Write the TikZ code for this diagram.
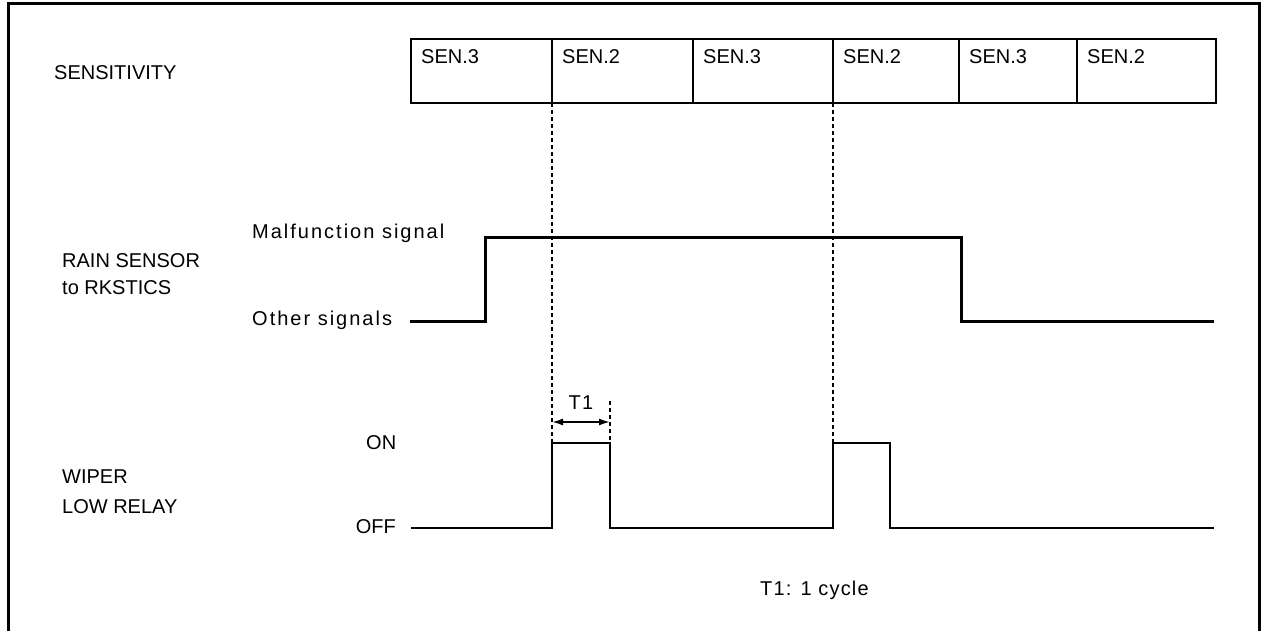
\documentclass[tikz,border=0pt]{standalone}
\usepackage{fontspec}
\setmainfont{Liberation Sans}
\newfontfamily\widefont[LetterSpace=10]{Liberation Sans}
\newfontfamily\midfont[LetterSpace=6]{Liberation Sans}
\usetikzlibrary{arrows.meta,calc}
\begin{document}
\begin{tikzpicture}[x=1pt,y=-1pt,
  lbl/.style={font=\fontsize{20}{24}\selectfont, anchor=west, inner sep=0pt},
  wlbl/.style={font=\widefont\fontsize{20}{24}\selectfont, anchor=west, inner sep=0pt},
  mlbl/.style={font=\midfont\fontsize{20}{24}\selectfont, anchor=west, inner sep=0pt},
  cell/.style={draw, line width=2.1pt, minimum height=64pt, anchor=north west, inner sep=0pt, outer sep=0pt},
  celltxt/.style={font=\fontsize{20}{24}\selectfont, anchor=west, inner sep=0pt},
  rainsig/.style={line width=3pt},
  wipsig/.style={line width=2.5pt},
  guide/.style={line width=1.8pt, dash pattern=on 4pt off 3pt},
  frame/.style={line width=3pt}]
\useasboundingbox (0,0) rectangle (1266,631);
% frame
\coordinate (fBL) at (8,631);
\coordinate (fTL) at (8,3.5);
\coordinate (fTR) at (1259.5,3.5);
\coordinate (fBR) at (1259.5,631);
\draw[frame] (fBL) -- (fTL) -- (fTR) -- (fBR);

% sensitivity row
\node[lbl] (sens) at (54,72.5) {SENSITIVITY};
\node[cell, minimum width=141pt] (c1) at (411,39) {};
\node[cell, minimum width=141pt] (c2) at (552,39) {};
\node[cell, minimum width=140pt] (c3) at (693,39) {};
\node[cell, minimum width=126pt] (c4) at (833,39) {};
\node[cell, minimum width=118pt] (c5) at (959,39) {};
\node[cell, minimum width=139pt] (c6) at (1077,39) {};
\node[celltxt] (t1) at ($(c1.north west)+(10,18)$) {SEN.3};
\node[celltxt] (t2) at ($(c2.north west)+(10,18)$) {SEN.2};
\node[celltxt] (t3) at ($(c3.north west)+(10,18)$) {SEN.3};
\node[celltxt] (t4) at ($(c4.north west)+(10,18)$) {SEN.2};
\node[celltxt] (t5) at ($(c5.north west)+(10,18)$) {SEN.3};
\node[celltxt] (t6) at ($(c6.north west)+(10,18)$) {SEN.2};

% rain sensor row
\node[lbl] (rs1) at (62,260.5) {RAIN SENSOR};
\node[lbl] (rs2) at (62,288) {to RKSTICS};
\node[wlbl] (mal) at (252,233.5) {Malfunction signal};
\node[wlbl] (oth) at (252,320) {Other signals};
\coordinate (rsA) at (410,321);
\coordinate (rsB) at (485,237);
\coordinate (rsC) at (961,321);
\coordinate (rsD) at (1214,321);
\draw[rainsig] (rsA) -| (rsB) -| (rsC) -- (rsD);

% wiper row
\node[lbl] (wp1) at (62,477) {WIPER};
\node[lbl] (wp2) at (62,507) {LOW RELAY};
\node[lbl] (on) at (366,443) {ON};
\node[lbl, anchor=east] (off) at (396,527) {OFF};
\coordinate (wA) at (411,528);
\coordinate (wB) at (552,443);
\coordinate (wC) at (610,528);
\coordinate (wD) at (833,443);
\coordinate (wE) at (890,528);
\coordinate (wF) at (1214,528);
\coordinate (wCt) at (610,443);
\draw[wipsig] (wA) -| (wB) -| (wC) -| (wD) -| (wE) -- (wF);

% guides
\coordinate (t1top) at (610,401);
\draw[guide] (c2.south west) -- (wB);
\draw[guide] (c4.south west) -- (wD);
\draw[guide] (t1top) -- (wCt);
\coordinate (aL) at (552,422);
\coordinate (aR) at (610,422);
\draw[line width=1.8pt, {Latex[length=11pt,width=7pt]}-{Latex[length=11pt,width=7pt]}] (aL) -- (aR);
\node[mlbl, anchor=center] (t1lbl) at (581,403) {T1};
\node[mlbl] (cyc) at (760,590) {T1: 1 cycle};
\end{tikzpicture}
\end{document}
